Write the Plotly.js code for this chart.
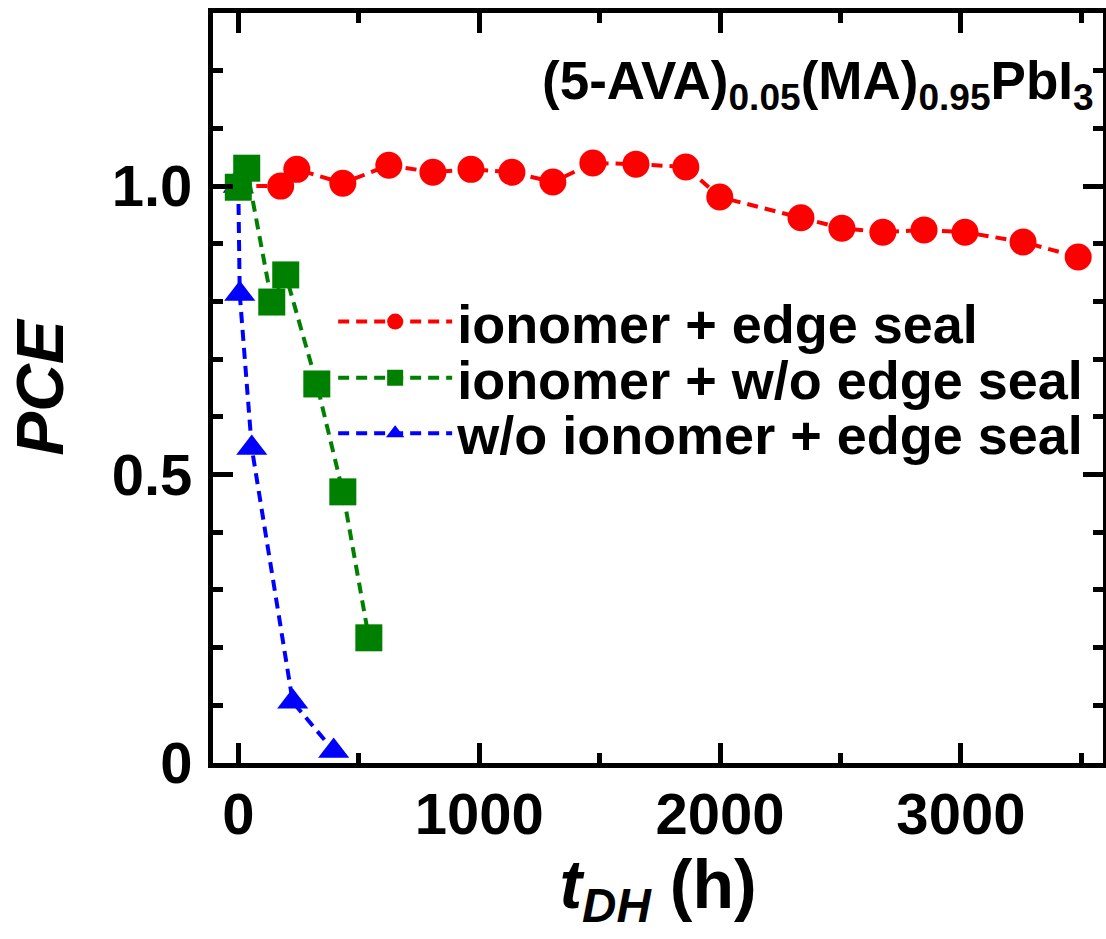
<!DOCTYPE html>
<html>
<head>
<meta charset="utf-8">
<script src="https://cdn.plot.ly/plotly-3.0.1.min.js"></script>
<style>
  html, body { margin: 0; padding: 0; background: #ffffff; }
  #chart { width: 1106px; height: 939px; }
</style>
</head>
<body>
<div id="chart"></div>
<script>
// ---- data ----
const seriesNames = ['ionomer + edge seal', 'ionomer + w/o edge seal', 'w/o ionomer + edge seal'];

const redHours = [0, 176, 243, 434, 625, 808, 966, 1136, 1306, 1472, 1651, 1858, 1999, 2336, 2506, 2676, 2847, 3017, 3258, 3487];
const redPCE   = [1.0, 1.0, 1.029, 1.005, 1.036, 1.024, 1.029, 1.024, 1.007, 1.040, 1.038, 1.033, 0.981, 0.945, 0.927, 0.920, 0.924, 0.920, 0.903, 0.877];

const greenHours = [0, 35, 139, 197, 326, 434, 542];
const greenPCE   = [0.998, 1.031, 0.799, 0.846, 0.657, 0.470, 0.217];

const blueHours = [0, 6, 56, 226, 396];
const bluePCE   = [1.0, 0.813, 0.546, 0.106, 0.021];

const xTickVals = [0, 1000, 2000, 3000];
const xTickText = ['0', '1000', '2000', '3000'];
const yTickVals = [0, 0.5, 1.0];
const yTickText = ['0', '0.5', '1.0'];

const FONT = 'Liberation Sans, Arial, Helvetica, sans-serif';

function trace(x, y, name, color, symbol, legendId) {
  return {
    x: x, y: y, name: name, type: 'scatter', mode: 'lines+markers',
    line: { color: color, width: 4, dash: '11px,7px' },
    marker: { color: color, size: 27, symbol: symbol },
    legend: legendId
  };
}

// drawing order: red at the bottom, then blue, green on top
const data = [
  trace(redHours, redPCE, seriesNames[0], '#ff0000', 'circle', 'legend'),
  trace(blueHours, bluePCE, seriesNames[2], '#0000ff', 'triangle-up', 'legend3'),
  trace(greenHours, greenPCE, seriesNames[1], '#008000', 'square', 'legend2')
];

function legendBox(y) {
  return {
    x: 0.135, y: y, xanchor: 'left', yanchor: 'middle',
    bgcolor: 'rgba(0,0,0,0)', borderwidth: 0,
    font: { family: FONT, size: 54, color: '#000', weight: 'bold' },
    itemwidth: 114, tracegroupgap: 0
  };
}

const layout = {
  width: 1106, height: 939,
  margin: { l: 213, r: 3, t: 13, b: 176 },
  paper_bgcolor: '#ffffff', plot_bgcolor: '#ffffff',
  font: { family: FONT, color: '#000', weight: 'bold' },
  showlegend: true,
  legend: legendBox(0.588),
  legend2: legendBox(0.513),
  legend3: legendBox(0.439),
  xaxis: {
    range: [-105, 3590],
    showgrid: false, zeroline: false,
    showline: true, linecolor: '#000', linewidth: 5, mirror: 'allticks',
    ticks: 'inside', ticklen: 20, tickwidth: 5, tickcolor: '#000',
    tickvals: xTickVals, ticktext: xTickText,
    tickfont: { family: FONT, size: 58, color: '#000', weight: 'bold' },
    ticklabelstandoff: -4,
    minor: { dtick: 500, tick0: 0, ticks: 'inside', ticklen: 10, tickwidth: 5, tickcolor: '#000', showgrid: false },
    title: { text: '<i>t</i><sub><i>DH</i></sub> (h)', font: { family: FONT, size: 68, color: '#000', weight: 'bold' }, standoff: 14 }
  },
  yaxis: {
    range: [0, 1.3],
    showgrid: false, zeroline: false,
    showline: true, linecolor: '#000', linewidth: 5, mirror: 'allticks',
    ticks: 'inside', ticklen: 20, tickwidth: 5, tickcolor: '#000',
    tickvals: yTickVals, ticktext: yTickText,
    tickfont: { family: FONT, size: 58, color: '#000', weight: 'bold' },
    ticklabelstandoff: 4,
    minor: { dtick: 0.1, tick0: 0, ticks: 'inside', ticklen: 10, tickwidth: 5, tickcolor: '#000', showgrid: false },
    title: { text: '<i>PCE</i>', font: { family: FONT, size: 66, color: '#000', weight: 'bold' }, standoff: 28 }
  },
  annotations: [{
    xref: 'paper', yref: 'paper', x: 0.992, y: 0.904, xanchor: 'right', yanchor: 'middle',
    showarrow: false,
    text: '(5-AVA)<sub>0.05</sub>(MA)<sub>0.95</sub>PbI<sub>3</sub>',
    font: { family: FONT, size: 53, color: '#000', weight: 'bold' }
  }]
};

Plotly.newPlot('chart', data, layout, { displayModeBar: false, staticPlot: true });
</script>
</body>
</html>
